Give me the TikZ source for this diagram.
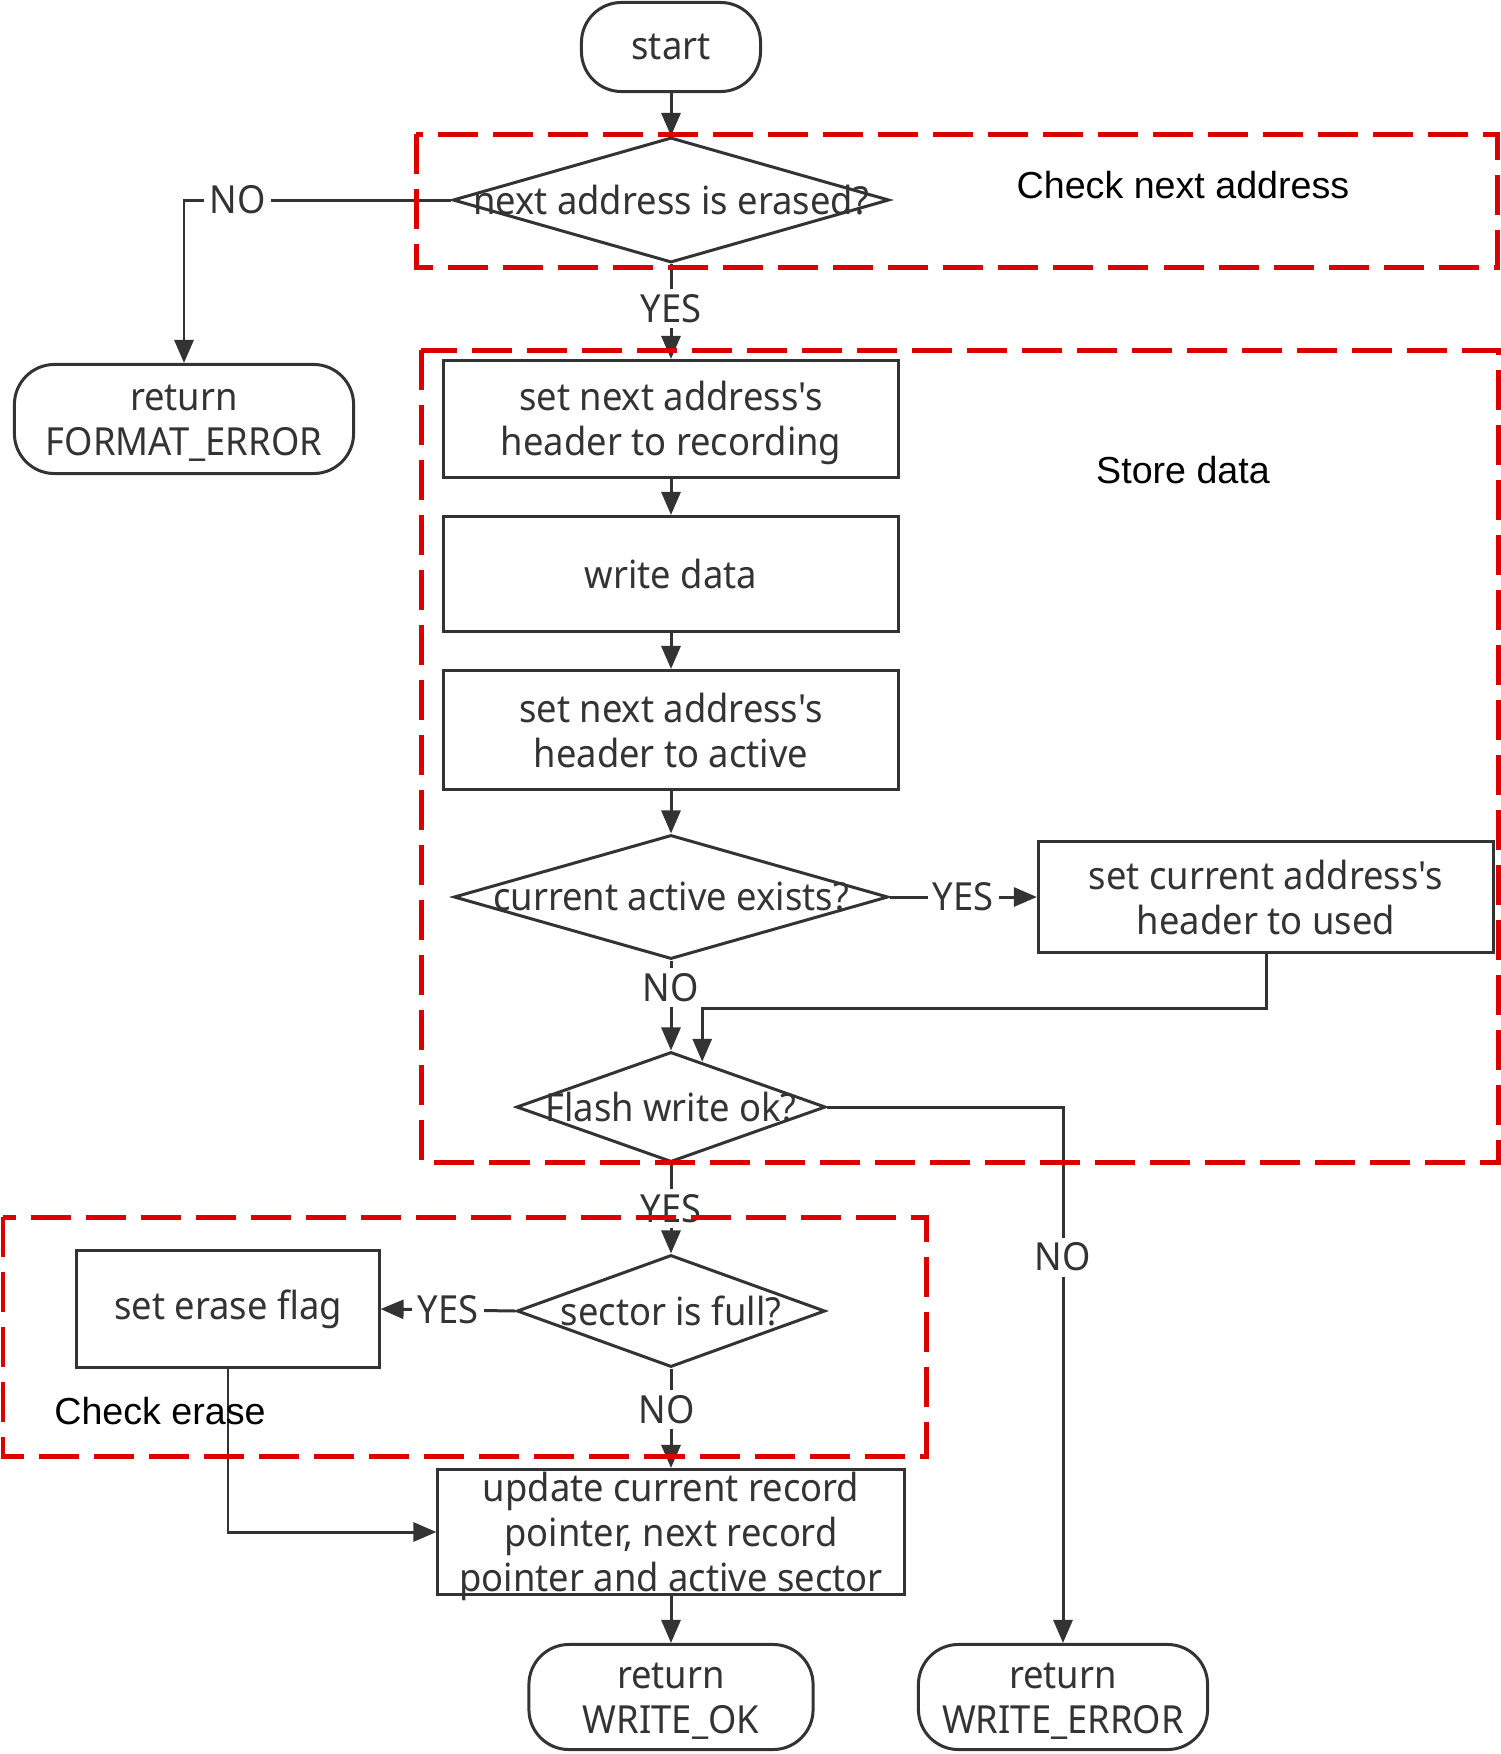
\documentclass[tikz,border=0pt]{standalone}
\usepackage{fontspec}
\setmainfont[FakeStretch=0.94, Ligatures=TeXOff]{Noto Sans}
\newfontfamily\arialfont{Liberation Sans}
\usetikzlibrary{shapes.geometric,arrows.meta,calc}
\definecolor{ink}{HTML}{333333}
\definecolor{redd}{RGB}{221,0,0}
\begin{document}
\begin{tikzpicture}[x=0.01cm,y=-0.01cm,
  every node/.style={font=\fontsize{11}{12.8}\selectfont, text=ink},
  line/.style={draw=ink, line width=0.85pt},
  arr/.style={line, -{Triangle[length=0.23cm,width=0.19cm]}},
  term/.style={draw=ink, line width=0.85pt, rounded corners=0.4cm, align=center, inner sep=0},
  proc/.style={draw=ink, line width=0.85pt, align=center, inner sep=0},
  dec/.style={draw=ink, line width=0.85pt, diamond, inner sep=0},
  ml/.style={label={[align=center, yshift=-0.04cm]center:#1}},
  lbl/.style={fill=white, inner sep=1.5pt},
  grp/.style={draw=redd, line width=1.42pt, dash pattern=on 0.4cm off 0.15cm},
  note/.style={font=\arialfont\fontsize{10.7}{12}\selectfont, text=black}
]
\useasboundingbox[fill=white] (0,0) rectangle (1501,1754);

% nodes
\node[term, minimum width=1.79cm, minimum height=0.89cm] (start) at (671,47) {start};
\node[dec, minimum width=4.36cm, minimum height=1.25cm] (d1) at (671,200) {\makebox[0pt]{next address is erased?}};
\node[term, minimum width=3.39cm, minimum height=1.09cm, ml={return\\FORMAT\_ERROR}] (fmt) at (184,419) {};
\node[proc, minimum width=4.55cm, minimum height=1.17cm, ml={set next address's\\header to recording}] (b1) at (671,419) {};
\node[proc, minimum width=4.55cm, minimum height=1.15cm] (b2) at (671,574) {write data};
\node[proc, minimum width=4.55cm, minimum height=1.19cm] (b3) at (671,730) {set next address's\\header to active};
\node[dec, minimum width=4.34cm, minimum height=1.24cm] (d2) at (671,897) {\makebox[0pt]{current active exists?}};
\node[proc, minimum width=4.55cm, minimum height=1.10cm] (b4) at (1266,897) {set current address's\\header to used};
\node[dec, minimum width=3.09cm, minimum height=1.10cm] (d3) at (671,1107) {\makebox[0pt]{Flash write ok?}};
\node[dec, minimum width=3.08cm, minimum height=1.12cm] (d4) at (671,1311) {\makebox[0pt]{sector is full?}};
\node[proc, minimum width=3.02cm, minimum height=1.16cm] (b5) at (228,1309) {set erase flag};
\node[proc, minimum width=4.66cm, minimum height=1.25cm, ml={update current record\\pointer, next record\\pointer and active sector}] (b6) at (671,1532) {};
\node[term, minimum width=2.84cm, minimum height=1.05cm, ml={return\\WRITE\_OK}] (ok) at (671,1697) {};
\node[term, minimum width=2.89cm, minimum height=1.05cm, ml={return\\WRITE\_ERROR}] (err) at (1063,1697) {};

\coordinate (d3in) at ($(d3.north)!0.2!(d3.east)$);
\coordinate (jy) at (0,1008);

% connectors
\draw[arr] (start) -- (d1);
\draw[arr] (d1.west) -| (fmt.north) node[lbl, pos=0.40] {NO};
\draw[arr] (d1.south) -- (b1.north) node[lbl, pos=0.47] {YES};
\draw[arr] (b1) -- (b2);
\draw[arr] (b2) -- (b3);
\draw[arr] (b3) -- (d2.north);
\draw[arr] (d2.east) -- (b4.west) node[lbl, midway] {YES};
\draw[arr] (d2.south) -- (d3.north) node[lbl, pos=0.3] {NO};
\draw[arr] (b4.south) |- (d3in |- jy) -- (d3in);
\draw[arr] (d3.east) -| (err.north) node[lbl, pos=0.64] {NO};
\draw[arr] (d3.south) -- (d4.north) node[lbl, midway] {YES};
\draw[arr] (d4.west) -- (b5.east) node[lbl, midway] {YES};
\draw[arr] (d4.south) -- (b6.north) node[lbl, pos=0.41, xshift=-0.04cm] {NO};
\draw[arr] (b5.south) |- (b6.west);
\draw[arr] (b6) -- (ok);

% group boxes
\draw[grp] (416,134) rectangle (1497,267);
\draw[grp] (421,350) rectangle (1498,1162);
\draw[grp] (3,1217) rectangle (926,1456);
\node[note] (n1) at (1183,185) {Check next address};
\node[note] (n2) at (1183,470) {Store data};
\node[note] (n3) at (160,1411) {Check erase};
\end{tikzpicture}
\end{document}
